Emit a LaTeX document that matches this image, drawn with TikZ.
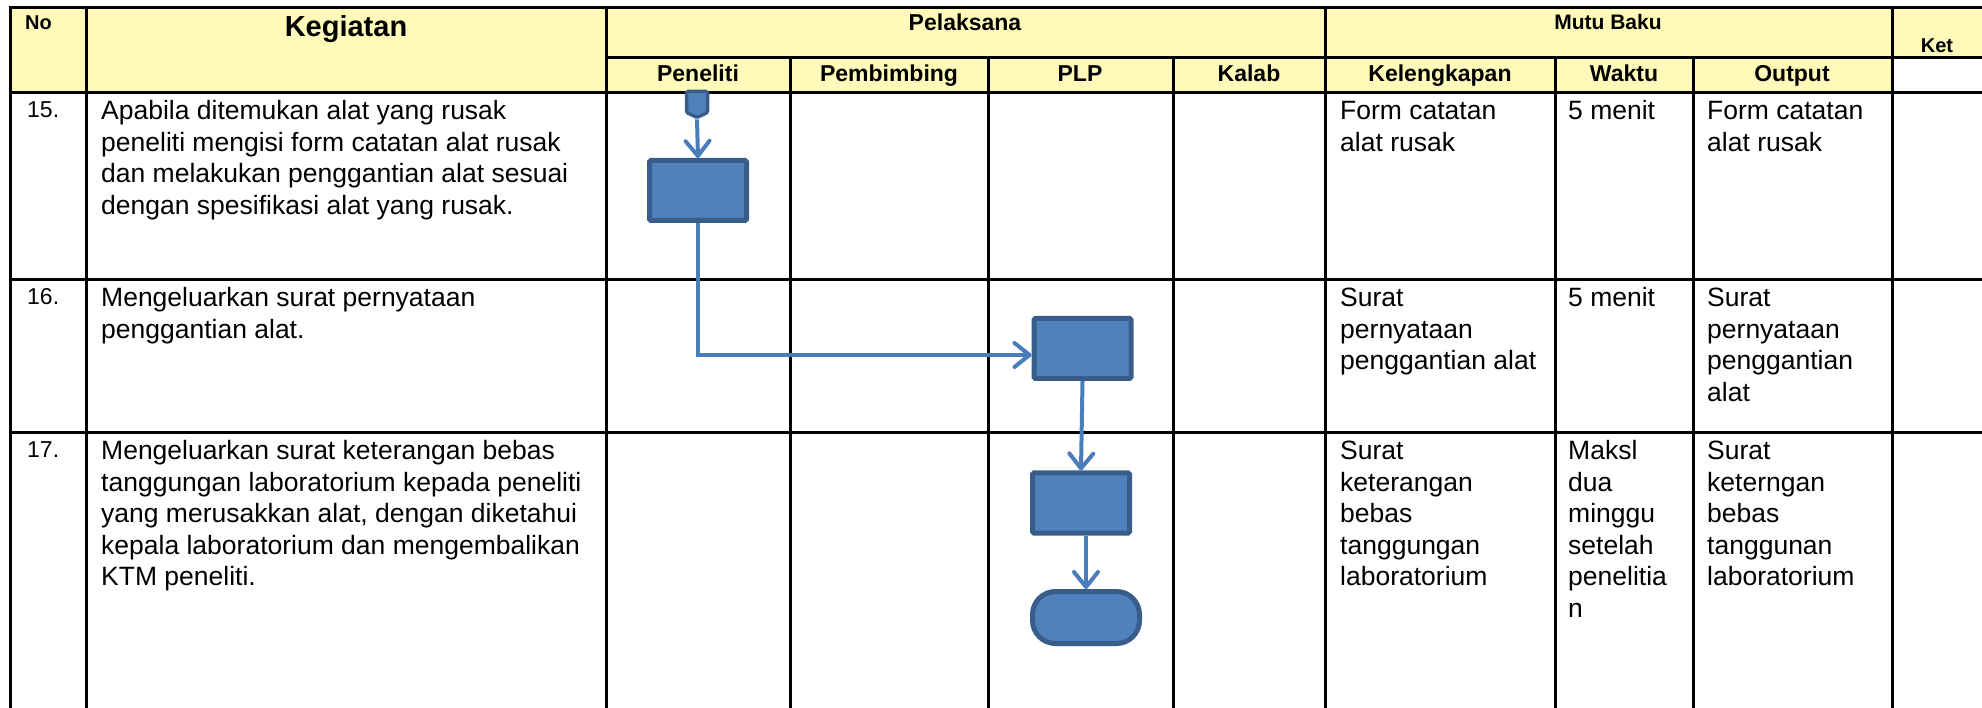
\documentclass[tikz,border=0pt]{standalone}
\usepackage{fontspec}
\setmainfont{Liberation Sans}
\usetikzlibrary{arrows.meta,shapes.symbols}
\definecolor{hdr}{RGB}{255,250,185}
\definecolor{boxfill}{RGB}{79,129,189}
\definecolor{boxline}{RGB}{56,93,138}
\definecolor{conncol}{RGB}{74,126,187}
\newcommand{\mycell}[1]{\begin{tabular}[t]{@{}l@{}}#1\end{tabular}}
\begin{document}
\begin{tikzpicture}[x=1pt,y=-1pt,
  gridline/.style={line width=3pt, line cap=rect},
  body/.style={anchor=base west, inner sep=0, font=\fontsize{26.5}{31.5}\selectfont},
  num/.style={anchor=base west, inner sep=0, font=\fontsize{23}{27}\selectfont},
  hd/.style={anchor=base, inner sep=0, font=\bfseries\fontsize{23}{27}\selectfont},
  proc/.style={rectangle, fill=boxfill, draw=boxline, line width=5pt, minimum width=97pt, minimum height=60pt, inner sep=0, rounded corners=1.5pt},
  termsh/.style={rectangle, fill=boxfill, draw=boxline, line width=5pt, minimum width=107pt, minimum height=52pt, inner sep=0, rounded corners=23pt},
  startsh/.style={signal, signal to=south, signal pointer angle=130, fill=boxfill, draw=boxline, line width=3.5pt, minimum width=21pt, minimum height=21pt, inner sep=0, rounded corners=1.5pt},
  conn/.style={draw=conncol, line width=4pt, -{Straight Barb[length=15pt,width=24pt,round]}}
]
\useasboundingbox (0,0) rectangle (1982,708);
% header fill
\fill[hdr] (10,8) rectangle (1892,93);
\fill[hdr] (1892,8) rectangle (1982,58);
% grid lines
\draw[gridline] (10,8) -- (1982,8);
\draw[gridline] (606,58) -- (1982,58);
\draw[gridline] (10,93) -- (1982,93);
\draw[gridline] (10,280) -- (1982,280);
\draw[gridline] (10,433) -- (1982,433);
\foreach \x in {10,86,606,1325,1892} \draw[gridline] (\x,8) -- (\x,708);
\foreach \x in {790,988,1173,1555,1693} \draw[gridline] (\x,58) -- (\x,708);
% header texts
\node[anchor=base west, inner sep=0, font=\bfseries\fontsize{20}{24}\selectfont] (hno) at (25,30) {No};
\node[hd, font=\bfseries\fontsize{29}{33}\selectfont] (hkeg) at (346,37) {Kegiatan};
\node[hd] (hpel) at (965,31) {Pelaksana};
\node[hd, font=\bfseries\fontsize{21}{25}\selectfont] (hmutu) at (1608,30) {Mutu Baku};
\node[hd, font=\bfseries\fontsize{20}{24}\selectfont] (hket) at (1937,53) {Ket};
\node[hd] (hpen) at (698,82) {Peneliti};
\node[hd] (hpem) at (889,82) {Pembimbing};
\node[hd] (hplp) at (1080,82) {PLP};
\node[hd] (hkal) at (1249,82) {Kalab};
\node[hd] (hkel) at (1440,82) {Kelengkapan};
\node[hd] (hwak) at (1624,82) {Waktu};
\node[hd] (hout) at (1792,82) {Output};
% row 15
\node[num] (n15) at (27,118) {15.};
\node[body] (k15) at (101,120) {\mycell{Apabila ditemukan alat yang rusak\\peneliti mengisi form catatan alat rusak\\dan melakukan penggantian alat sesuai\\dengan spesifikasi alat yang rusak.}};
\node[body] (l15) at (1340,120) {\mycell{Form catatan\\alat rusak}};
\node[body] (w15) at (1568,120) {\mycell{5 menit}};
\node[body] (o15) at (1707,120) {\mycell{Form catatan\\alat rusak}};
% row 16
\node[num] (n16) at (27,305) {16.};
\node[body] (k16) at (101,307) {\mycell{Mengeluarkan surat pernyataan\\penggantian alat.}};
\node[body] (l16) at (1340,307) {\mycell{Surat\\pernyataan\\penggantian alat}};
\node[body] (w16) at (1568,307) {\mycell{5 menit}};
\node[body] (o16) at (1707,307) {\mycell{Surat\\pernyataan\\penggantian\\alat}};
% row 17
\node[num] (n17) at (27,458) {17.};
\node[body] (k17) at (101,460) {\mycell{Mengeluarkan surat keterangan bebas\\tanggungan laboratorium kepada peneliti\\yang merusakkan alat, dengan diketahui\\kepala laboratorium dan mengembalikan\\KTM peneliti.}};
\node[body] (l17) at (1340,460) {\mycell{Surat\\keterangan\\bebas\\tanggungan\\laboratorium}};
\node[body] (w17) at (1568,460) {\mycell{Maksl\\dua\\minggu\\setelah\\penelitia\\n}};
\node[body] (o17) at (1707,460) {\mycell{Surat\\keterngan\\bebas\\tanggunan\\laboratorium}};
% flow shapes
\node[startsh] (s) at (697,102) {};
\node[proc] (b1) at (698,190.5) {};
\node[proc] (b2) at (1082.5,348.5) {};
\node[proc] (b3) at (1081,503) {};
\node[termsh] (t) at (1086,617.5) {};
% connectors
\draw[conn] (s.south) -- (b1.north);
\draw[conn] (b1.south) |- ([yshift=-6.5pt]b2.west);
\draw[conn] (b2.south) -- (b3.north);
\draw[conn] (t.north |- b3.south) -- (t.north);
\end{tikzpicture}
\end{document}
